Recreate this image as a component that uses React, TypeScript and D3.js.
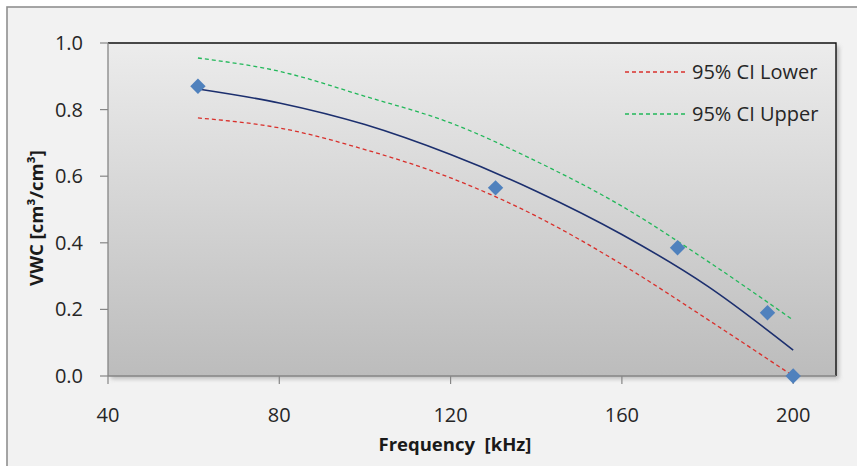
import React from "react";
import * as d3 from "d3";

// measured points
const freq = [61, 130.5, 173, 194, 200];
const vwc = [0.87, 0.565, 0.385, 0.19, 0.0];

// fitted curve and 95% bands
const fitFreq = [61, 80, 100, 120, 140, 160, 180, 200];
const fitVwc = [0.862, 0.82, 0.755, 0.665, 0.555, 0.425, 0.27, 0.078];
const lowerVwc = [0.775, 0.745, 0.68, 0.595, 0.48, 0.335, 0.17, 0.0];
const upperVwc = [0.955, 0.915, 0.84, 0.76, 0.645, 0.51, 0.345, 0.168];

const xTicks = [40, 80, 120, 160, 200];
const yTicks = [0, 0.2, 0.4, 0.6, 0.8, 1.0];

const legendNames = ["95% CI Lower", "95% CI Upper"];
const legendColors = ["#d9302c", "#22b85a"];

const W = 857;
const H = 466;
const plot = { left: 108, top: 43, right: 836, bottom: 376 };
const font = "'Open Sans', sans-serif";

export default function App() {
  const x = d3.scaleLinear().domain([40, 210]).range([plot.left, plot.right]);
  const y = d3.scaleLinear().domain([0, 1]).range([plot.bottom, plot.top]);

  const line = d3
    .line<number>()
    .x((_, i) => x(fitFreq[i]))
    .y((d) => y(d))
    .curve(d3.curveMonotoneX);

  const diamond = d3.symbol(d3.symbolSquare, 118)();

  const pw = plot.right - plot.left;
  const ph = plot.bottom - plot.top;

  return (
    <svg
      width={W}
      height={H}
      style={{ position: "absolute", left: 0, top: 0 }}
      fontFamily={font}
    >
      <defs>
        <linearGradient id="plotBg" x1="0" y1="0" x2="0" y2="1">
          <stop offset="0" stopColor="#ececec" />
          <stop offset="1" stopColor="#bcbcbc" />
        </linearGradient>
        <filter id="shadow" x="-5%" y="-5%" width="110%" height="110%">
          <feGaussianBlur stdDeviation="2" />
        </filter>
      </defs>

      <rect x={0} y={0} width={W} height={H} fill="#ffffff" />
      <rect x={7} y={7} width={W + 10} height={H + 10} fill="#f2f2f2" stroke="#8f8f8f" strokeWidth={1.6} />

      {/* plot area */}
      <rect x={plot.left + 3} y={plot.top + 3} width={pw} height={ph} fill="#9a9a9a" opacity={0.6} filter="url(#shadow)" />
      <rect x={plot.left} y={plot.top} width={pw} height={ph} fill="url(#plotBg)" />
      <path
        d={`M${plot.left},${plot.top}H${plot.right}V${plot.bottom}`}
        fill="none"
        stroke="#111"
        strokeWidth={1.4}
      />

      {/* axes */}
      <line x1={plot.left} x2={plot.left} y1={plot.top} y2={plot.bottom} stroke="#868686" strokeWidth={1.3} />
      <line x1={plot.left} x2={plot.right} y1={plot.bottom} y2={plot.bottom} stroke="#868686" strokeWidth={1.3} />
      {yTicks.map((t) => (
        <g key={"y" + t}>
          <line x1={plot.left - 8} x2={plot.left} y1={y(t)} y2={y(t)} stroke="#868686" strokeWidth={1.2} />
          <text x={83} y={y(t)} dy="0.35em" textAnchor="end" fontSize={20} fill="#262626">
            {t.toFixed(1)}
          </text>
        </g>
      ))}
      {xTicks.map((t) => (
        <g key={"x" + t}>
          <line x1={x(t)} x2={x(t)} y1={plot.bottom} y2={plot.bottom + 8} stroke="#868686" strokeWidth={1.2} />
          <text x={x(t)} y={422} textAnchor="middle" fontSize={20} fill="#262626">
            {t}
          </text>
        </g>
      ))}

      <text x={455} y={451} textAnchor="middle" fontSize={18.5} fontWeight="bold" fill="#1a1a1a">
        Frequency{"\u00a0\u00a0"}[kHz]
      </text>
      <text
        transform="translate(37,218) rotate(-90)"
        textAnchor="middle"
        dy="0.35em"
        fontSize={18.5}
        fontWeight="bold"
        fill="#1a1a1a"
      >
        VWC [cm³/cm³]
      </text>

      {/* curves */}
      <path d={line(lowerVwc) || ""} fill="none" stroke={legendColors[0]} strokeWidth={1.3} strokeDasharray="4,3" />
      <path d={line(upperVwc) || ""} fill="none" stroke={legendColors[1]} strokeWidth={1.3} strokeDasharray="4,3" />
      <path d={line(fitVwc) || ""} fill="none" stroke="#1c2f6e" strokeWidth={1.6} />

      {freq.map((f, i) => (
        <path
          key={"p" + i}
          d={diamond || ""}
          transform={`translate(${x(f)},${y(vwc[i])}) rotate(45)`}
          fill="#4f81bd"
        />
      ))}

      {/* legend */}
      {legendNames.map((name, i) => (
        <g key={name} transform={`translate(0,${72 + i * 42})`}>
          <line x1={625} x2={685} y1={0} y2={0} stroke={legendColors[i]} strokeWidth={1.3} strokeDasharray="4,3" />
          <text x={692} y={0} dy="0.35em" fontSize={20} fill="#262626">
            {name}
          </text>
        </g>
      ))}
    </svg>
  );
}
